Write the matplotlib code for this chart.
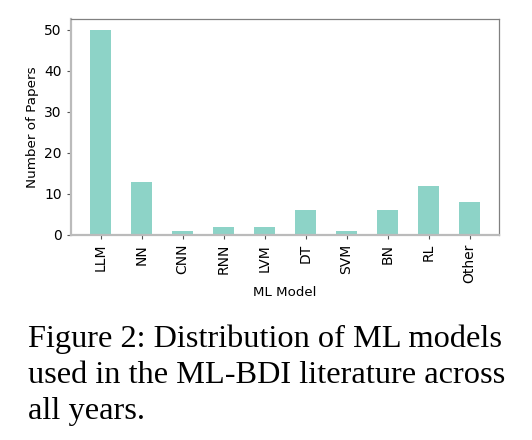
import numpy as np
import matplotlib.pyplot as plt

models = ['LLM', 'NN', 'CNN', 'RNN', 'LVM', 'DT', 'SVM', 'BN', 'RL', 'Other']
papers = [50, 13, 1, 2, 2, 6, 1, 6, 12, 8]

fig = plt.figure(figsize=(5.32, 4.40), dpi=100)
ax = fig.add_axes([0.133, 0.466, 0.805, 0.490])

x = np.arange(len(models))
ax.bar(x, papers, width=0.5, color='#8dd3c7')

ax.set_xlim(-0.73, 9.72)
ax.set_ylim(0, 52.5)
ax.set_xticks(x)
ax.set_xticklabels(models, rotation=90, fontsize=10)
ax.set_yticks([0, 10, 20, 30, 40, 50])
ax.tick_params(axis='y', labelsize=10, length=3, color='#555555')
ax.tick_params(axis='x', length=3, color='#555555')
ax.set_xlabel('ML Model', fontsize=9.6, labelpad=2)
ax.set_ylabel('Number of Papers', fontsize=9.7)

for side in ['top', 'right']:
    ax.spines[side].set_color('#808080')
    ax.spines[side].set_linewidth(0.9)
for side in ['left', 'bottom']:
    ax.spines[side].set_color('#bbbbbb')
    ax.spines[side].set_linewidth(1.6)

caption = ["Figure 2: Distribution of ML models",
           "used in the ML-BDI literature across",
           "all years."]
for i, line in enumerate(caption):
    fig.text(28 / 532, 1 - (347 + i * 36) / 440, line,
             family='Liberation Serif', fontsize=23.3, va='baseline')

fig.savefig('out.png', dpi=100)
